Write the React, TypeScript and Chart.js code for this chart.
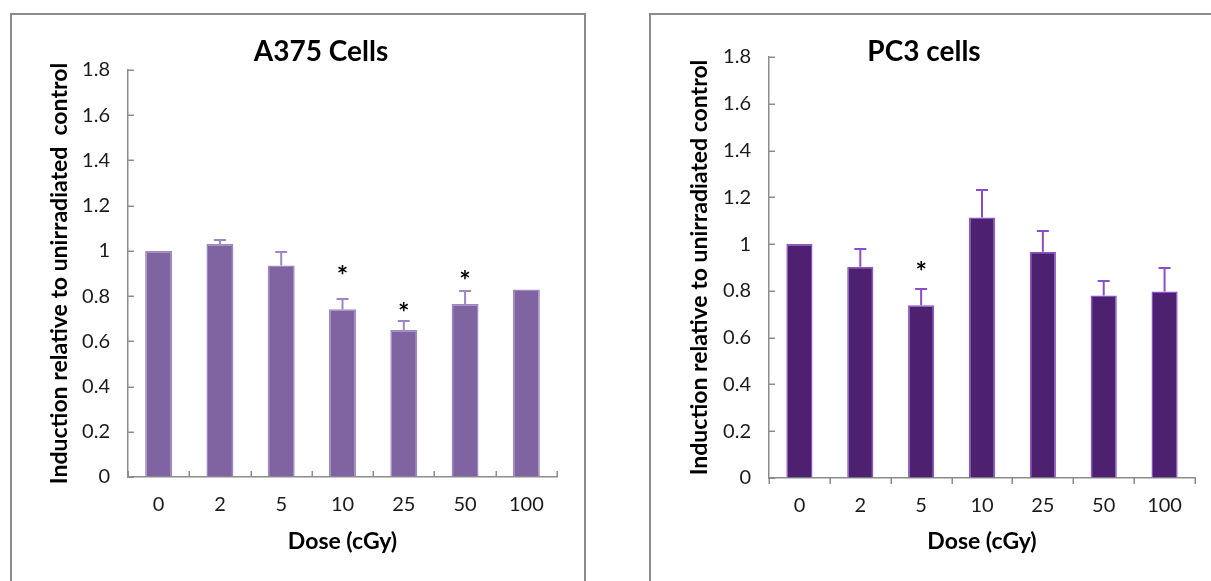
import React, { useEffect, useRef } from "react";
import { Chart, registerables } from "chart.js";
Chart.register(...registerables);

const doses = ["0", "2", "5", "10", "25", "50", "100"];
const yTickLabels = ["0", "0.2", "0.4", "0.6", "0.8", "1", "1.2", "1.4", "1.6", "1.8"];

const a375Values = [1.0, 1.03, 0.935, 0.742, 0.65, 0.765, 0.829];
const a375Errors = [0, 0.017, 0.061, 0.046, 0.039, 0.058, 0];
const a375Stars = [null, null, null, 0.916, 0.751, 0.894, null];

const pc3Values = [1.0, 0.903, 0.739, 1.114, 0.967, 0.78, 0.797];
const pc3Errors = [0, 0.078, 0.07, 0.117, 0.091, 0.061, 0.099];
const pc3Stars = [null, null, 0.904, null, null, null, null];

const FONT = "Lato, 'Open Sans', sans-serif";

type PanelCfg = {
  title: string;
  yTitle: string;
  values: number[];
  errors: number[];
  stars: (number | null)[];
  barColor: string;
  barBorder: string;
  errColor: string;
  width: number;
  height: number;
  yWidth: number;
  xHeight: number;
  padTop: number;
  padRight: number;
  yTitleOffset: number;
  titleX: number;
  titleY: number;
  xTicksDown: boolean;
  barPct: number;
};

const extrasPlugin = {
  id: "panelExtras",
  afterDatasetsDraw(chart: any, _args: any, opts: any) {
    const { ctx } = chart;
    const x = chart.scales.x;
    const y = chart.scales.y;
    const meta = chart.getDatasetMeta(0);
    ctx.save();
    // error bars
    ctx.strokeStyle = opts.errColor;
    ctx.lineWidth = 2;
    opts.errors.forEach((e: number, i: number) => {
      if (!e) return;
      const bar = meta.data[i];
      const yTop = Math.round(y.getPixelForValue(opts.values[i] + e));
      ctx.beginPath();
      ctx.moveTo(bar.x, bar.y);
      ctx.lineTo(bar.x, yTop);
      ctx.moveTo(bar.x - 6, yTop);
      ctx.lineTo(bar.x + 6, yTop);
      ctx.stroke();
    });
    // significance stars
    ctx.fillStyle = "#000";
    ctx.font = `bold 27px ${FONT}`;
    ctx.textAlign = "center";
    ctx.textBaseline = "middle";
    opts.stars.forEach((s: number | null, i: number) => {
      if (s == null) return;
      const bar = meta.data[i];
      ctx.fillText("*", bar.x, y.getPixelForValue(s) + 6);
    });
    // tick marks
    ctx.strokeStyle = "#8c8c8c";
    ctx.lineWidth = 1.5;
    const axisX = x.left;
    y.ticks.forEach((_t: any, i: number) => {
      const py = Math.round(y.getPixelForTick(i)) + 0.25;
      ctx.beginPath();
      ctx.moveTo(axisX, py);
      ctx.lineTo(axisX + 6, py);
      ctx.stroke();
    });
    const n = x.ticks.length;
    const step = (x.right - x.left) / n;
    const axisY = y.bottom;
    for (let i = 0; i <= n; i++) {
      const px = Math.round(x.left + i * step) + 0.25;
      ctx.beginPath();
      ctx.moveTo(px, axisY);
      ctx.lineTo(px, opts.xTicksDown ? axisY + 6 : axisY - 6);
      ctx.stroke();
    }
    // chart title
    ctx.fillStyle = "#000";
    ctx.font = `bold 28px ${FONT}`;
    ctx.textAlign = "center";
    ctx.textBaseline = "middle";
    ctx.fillText(opts.title, opts.titleX, opts.titleY);
    ctx.restore();
  },
};

function Panel({ cfg, left }: { cfg: PanelCfg; left: number }) {
  const ref = useRef<HTMLCanvasElement>(null);
  useEffect(() => {
    if (!ref.current) return;
    const chart = new Chart(ref.current, {
      type: "bar",
      data: {
        labels: doses,
        datasets: [
          {
            data: cfg.values,
            backgroundColor: cfg.barColor,
            borderColor: cfg.barBorder,
            borderWidth: 1.5,
            borderSkipped: "bottom",
            barPercentage: cfg.barPct,
            categoryPercentage: 1,
          },
        ],
      },
      options: {
        responsive: false,
        animation: false,
        layout: { padding: { left: 0, top: cfg.padTop, right: cfg.padRight, bottom: 0 } },
        plugins: {
          legend: { display: false },
          tooltip: { enabled: false },
          title: { display: false },
          panelExtras: {
            values: cfg.values,
            errors: cfg.errors,
            stars: cfg.stars,
            errColor: cfg.errColor,
            title: cfg.title,
            titleX: cfg.titleX,
            titleY: cfg.titleY,
            xTicksDown: cfg.xTicksDown,
          },
        } as any,
        scales: {
          x: {
            grid: { drawOnChartArea: false, drawTicks: false },
            border: { display: true, color: "#8c8c8c", width: 1.5 },
            ticks: { color: "#1a1a1a", font: { family: FONT, size: 20 }, padding: 16, maxRotation: 0 },
            title: {
              display: true,
              text: "Dose (cGy)",
              color: "#000",
              font: { family: FONT, size: 23, weight: "bold" },
              padding: { top: 0, bottom: 26 },
            },
            afterFit: (s: any) => {
              s.height = cfg.xHeight;
            },
          },
          y: {
            min: 0,
            max: 1.8,
            grid: { drawOnChartArea: false, drawTicks: false },
            border: { display: true, color: "#8c8c8c", width: 1.5 },
            ticks: {
              stepSize: 0.2,
              color: "#1a1a1a",
              font: { family: FONT, size: 20 },
              padding: 18,
              callback: (_v: any, i: number) => yTickLabels[i],
            },
            title: {
              display: true,
              text: cfg.yTitle,
              color: "#000",
              font: { family: FONT, size: 23, weight: "bold" },
              padding: { top: cfg.yTitleOffset, bottom: 0 },
            },
            afterFit: (s: any) => {
              s.width = cfg.yWidth;
            },
          },
        },
      },
      plugins: [extrasPlugin],
    });
    return () => chart.destroy();
  }, [cfg]);
  return (
    <canvas
      ref={ref}
      width={cfg.width}
      height={cfg.height}
      style={{ position: "absolute", left, top: 0, width: cfg.width, height: cfg.height }}
    />
  );
}

const leftCfg: PanelCfg = {
  title: "A375 Cells",
  yTitle: "Induction relative to unirradiated  control",
  values: a375Values,
  errors: a375Errors,
  stars: a375Stars,
  barColor: "#8064a2",
  barBorder: "#9d89c2",
  errColor: "#9d86c6",
  width: 620,
  height: 581,
  yWidth: 128,
  xHeight: 104,
  padTop: 70,
  padRight: 63,
  yTitleOffset: 46,
  titleX: 321,
  titleY: 52,
  xTicksDown: false,
  barPct: 0.44,
};

const rightCfg: PanelCfg = {
  title: "PC3 cells",
  yTitle: "Induction relative to unirradiated control",
  values: pc3Values,
  errors: pc3Errors,
  stars: pc3Stars,
  barColor: "#4d2170",
  barBorder: "#8a55c8",
  errColor: "#8a4fc8",
  width: 591,
  height: 581,
  yWidth: 149,
  xHeight: 103,
  padTop: 57,
  padRight: 16,
  yTitleOffset: 66,
  titleX: 304,
  titleY: 52,
  xTicksDown: true,
  barPct: 0.43,
};

export default function App() {
  return (
    <div style={{ position: "fixed", left: 0, top: 0, width: 1211, height: 581, overflow: "hidden", background: "#fff" }}>
      <div
        style={{
          position: "absolute",
          left: 10,
          top: 13,
          width: 576,
          height: 620,
          border: "2px solid #8a8a8a",
          boxSizing: "border-box",
        }}
      />
      <div
        style={{
          position: "absolute",
          left: 649,
          top: 13,
          width: 620,
          height: 620,
          border: "2px solid #8a8a8a",
          boxSizing: "border-box",
        }}
      />
      <Panel cfg={leftCfg} left={0} />
      <Panel cfg={rightCfg} left={620} />
    </div>
  );
}
